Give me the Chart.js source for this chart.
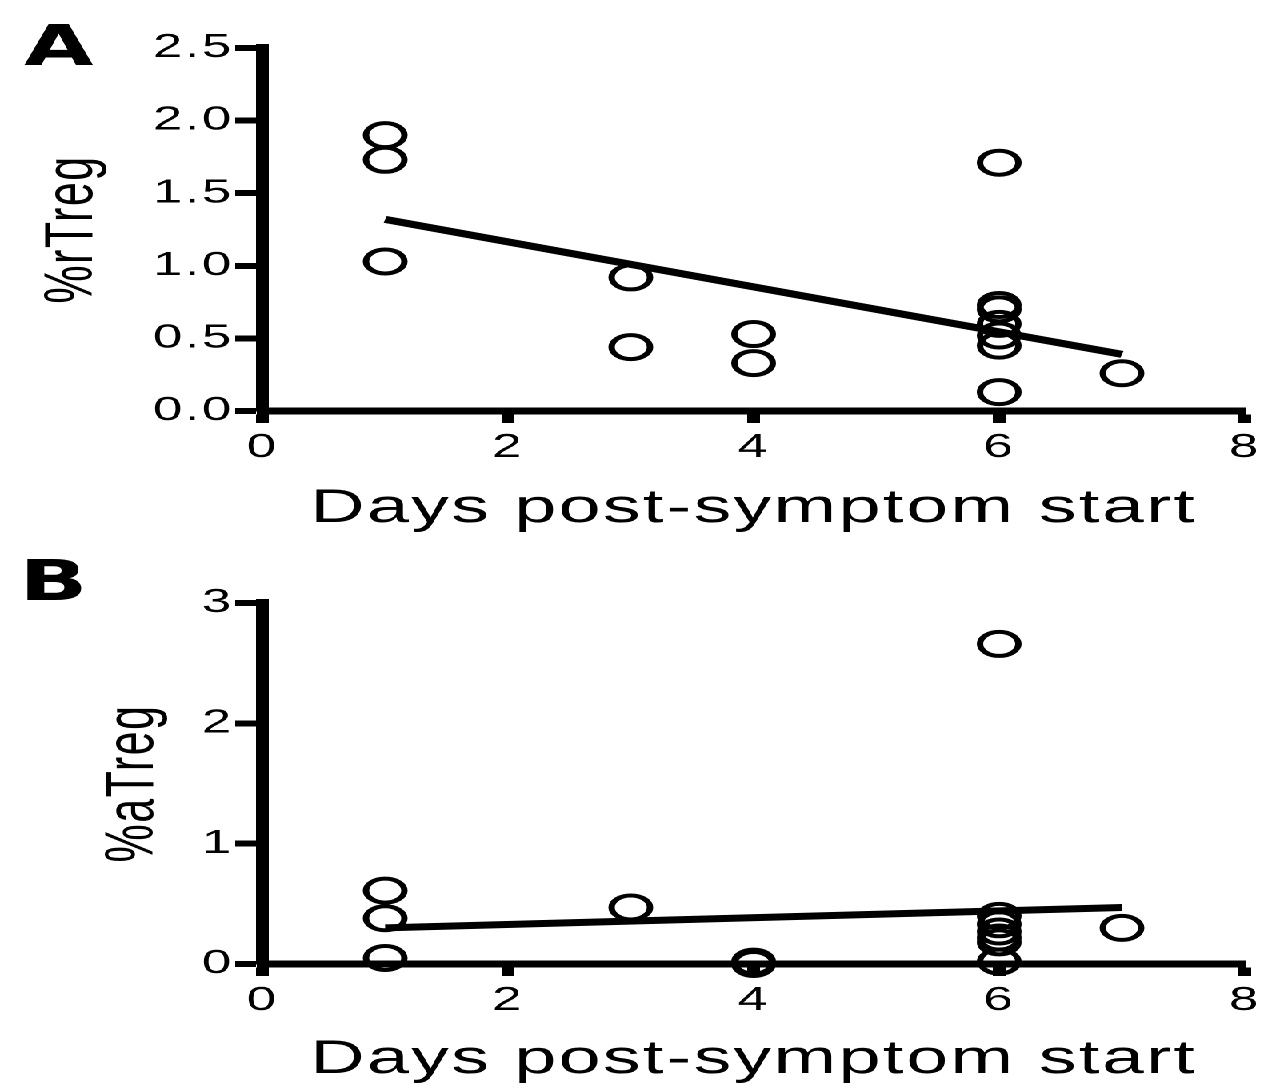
<!DOCTYPE html>
<html>
<head>
<meta charset="utf-8">
<script src="https://cdn.jsdelivr.net/npm/chart.js@4.4.1/dist/chart.umd.min.js"></script>
<style>
  html, body { margin: 0; padding: 0; background: #fff; overflow: hidden; }
  /* the original figure is stretched horizontally, so draw narrow and widen */
  #wrap { width: 799px; height: 1088px; transform: scaleX(1.6); transform-origin: 0 0; }
  canvas { display: block; }
</style>
</head>
<body>
<div id="wrap">
  <canvas id="chartA" width="799" height="544"></canvas>
  <canvas id="chartB" width="799" height="544"></canvas>
</div>
<script>
// x ticks shared by both panels
const dayTicks = [0, 2, 4, 6, 8];

// Panel A: %rTreg
const daysA    = [1, 1, 1, 3, 3, 4, 4, 6, 6, 6, 6, 6, 6, 6, 7];
const rTreg    = [1.90, 1.73, 1.03, 0.92, 0.44, 0.53, 0.33, 1.71, 0.73, 0.70, 0.60, 0.52, 0.45, 0.13, 0.26];
const fitDaysA = [1, 7];
const fitA     = [1.32, 0.39];
const yTicksA  = [0, 0.5, 1.0, 1.5, 2.0, 2.5];

// Panel B: %aTreg
const daysB    = [1, 1, 1, 3, 4, 4, 6, 6, 6, 6, 6, 6, 6, 7];
const aTreg    = [0.61, 0.38, 0.05, 0.47, 0.02, 0.00, 2.66, 0.40, 0.33, 0.27, 0.22, 0.18, 0.02, 0.30];
const fitDaysB = [1, 7];
const fitB     = [0.30, 0.47];
const yTicksB  = [0, 1, 2, 3];

const FONT = '"Liberation Sans", Arial, sans-serif';
Chart.defaults.font.family = FONT;
Chart.defaults.color = '#000';

// a bit of letter spacing like the original labels
const spacing = {
    id: 'spacing',
    beforeUpdate(chart) { chart.ctx.letterSpacing = '1.5px'; },
    beforeDraw(chart) { chart.ctx.letterSpacing = '1.5px'; }
};

// big bold panel letter in the corner
const panelLetter = {
    id: 'panelLetter',
    afterDraw(chart, args, opts) {
        const ctx = chart.ctx;
        ctx.save();
        ctx.letterSpacing = '0px';
        ctx.font = 'bold 56px "DejaVu Sans"';
        ctx.fillStyle = '#000';
        ctx.textBaseline = 'alphabetic';
        ctx.fillText(opts.text, opts.x, opts.y);
        ctx.restore();
    }
};

function makeChart(id, cfg) {
    return new Chart(document.getElementById(id), {
        type: 'scatter',
        data: {
            datasets: [{
                data: cfg.days.map((d, i) => ({ x: d, y: cfg.vals[i] })),
                pointStyle: 'circle',
                pointRadius: 12,
                pointHoverRadius: 12,
                pointBorderWidth: 4,
                borderColor: '#000',
                backgroundColor: 'rgba(0,0,0,0)',
                clip: false,
            }, {
                type: 'line',
                data: cfg.fitDays.map((d, i) => ({ x: d, y: cfg.fit[i] })),
                borderColor: '#000',
                borderWidth: 7,
                borderCapStyle: 'butt',
                pointRadius: 0,
                clip: false,
            }]
        },
        options: {
            responsive: false,
            animation: false,
            devicePixelRatio: 2,
            layout: { padding: { left: 0, top: cfg.top, right: 21, bottom: 0 } },
            plugins: {
                legend: { display: false },
                tooltip: { enabled: false },
                panelLetter: { text: cfg.letter, x: cfg.letterX, y: cfg.letterY }
            },
            scales: {
                x: {
                    type: 'linear', min: 0, max: 8,
                    afterBuildTicks: s => { s.ticks = dayTicks.map(v => ({ value: v })); },
                    afterFit: s => { s.height = cfg.xH; },
                    border: { display: true, color: '#000', width: 7 },
                    grid: { display: true, drawOnChartArea: false, drawTicks: true, tickLength: 12, tickWidth: 8, tickColor: '#000' },
                    ticks: { color: '#000', font: { size: 33 }, padding: 5, maxRotation: 0, autoSkip: false },
                    title: { display: true, text: 'Days post-symptom start', color: '#000', font: { size: 47 }, padding: { top: 0, bottom: cfg.xTitlePad } }
                },
                y: {
                    type: 'linear', min: 0, max: cfg.yTicks[cfg.yTicks.length - 1],
                    afterBuildTicks: s => { s.ticks = cfg.yTicks.map(v => ({ value: v })); },
                    afterFit: s => { s.width = 164; },
                    border: { display: true, color: '#000', width: 8 },
                    grid: { display: true, drawOnChartArea: false, drawTicks: true, tickLength: 17, tickWidth: 6, tickColor: '#000' },
                    ticks: { color: '#000', font: { size: 33 }, padding: 1, callback: cfg.fmt },
                    title: { display: true, text: cfg.yTitle, color: '#000', font: { size: 43 }, padding: { top: cfg.yTitlePad, bottom: 0 } }
                }
            }
        },
        plugins: [spacing, panelLetter]
    });
}

makeChart('chartA', {
    days: daysA, vals: rTreg, fitDays: fitDaysA, fit: fitA, yTicks: yTicksA,
    fmt: v => v.toFixed(1), yTitle: '%rTreg',
    top: 48, xH: 133, xTitlePad: 7, yTitlePad: 20,
    letter: 'A', letterX: 15, letterY: 65
});

makeChart('chartB', {
    days: daysB, vals: aTreg, fitDays: fitDaysB, fit: fitB, yTicks: yTicksB,
    fmt: v => String(v), yTitle: '%aTreg',
    top: 59, xH: 124, xTitlePad: 0, yTitlePad: 58,
    letter: 'B', letterX: 12, letterY: 56
});
</script>
</body>
</html>
